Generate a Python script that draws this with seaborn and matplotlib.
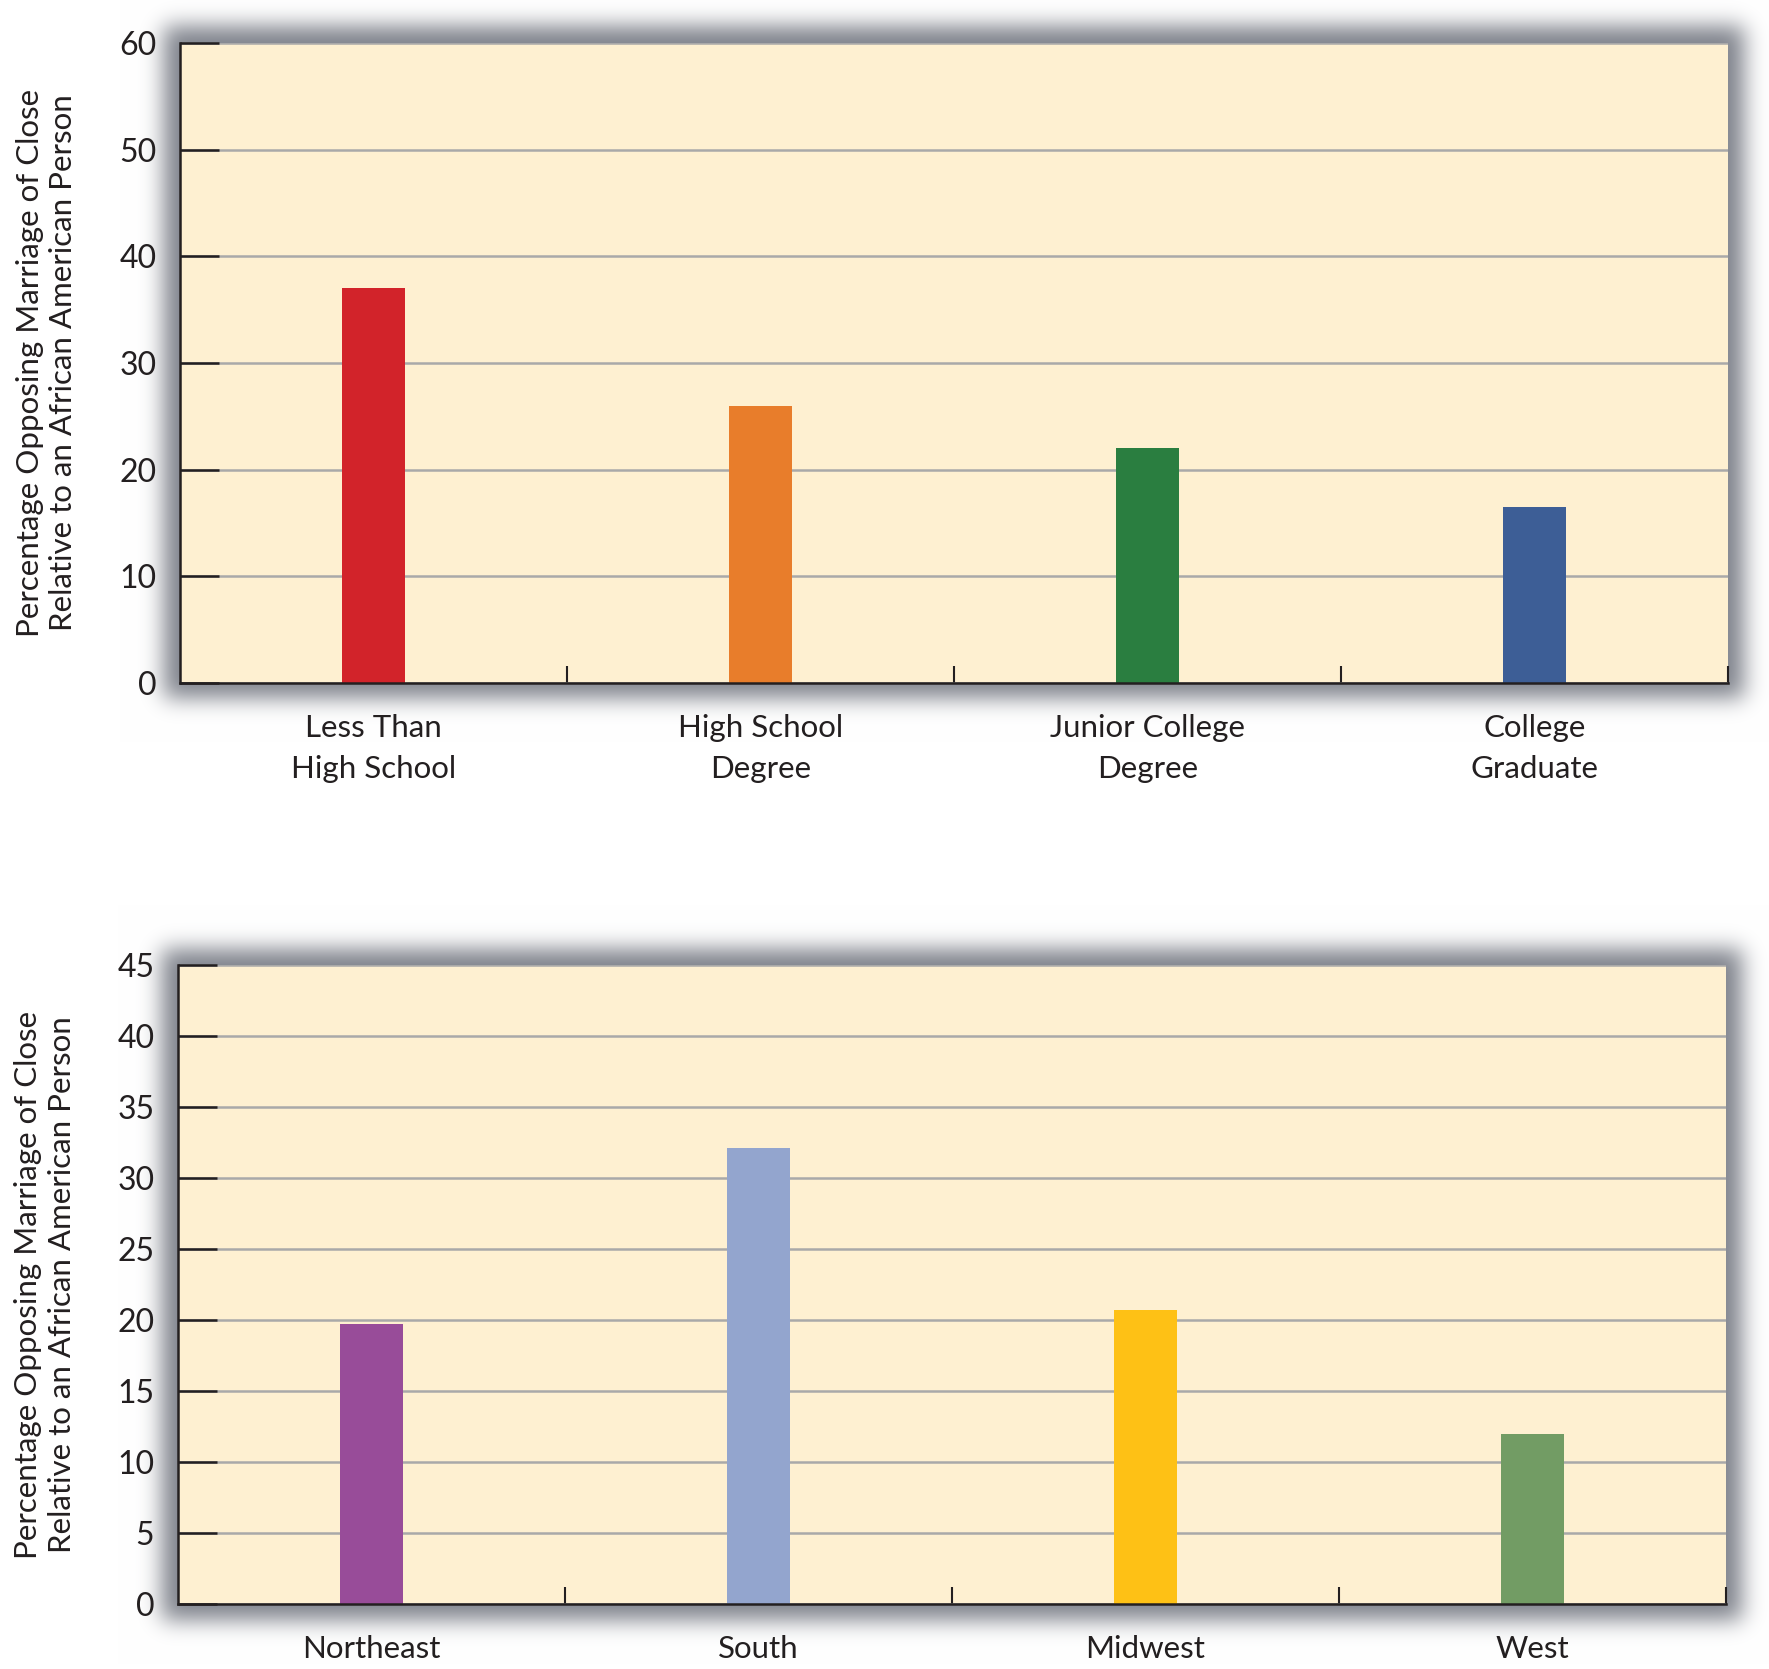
import numpy as np
import pandas as pd
import matplotlib
matplotlib.use("Agg")
import matplotlib.pyplot as plt
import seaborn as sns

# data
edu_labels = ["Less Than\nHigh School", "High School\nDegree", "Junior College\nDegree", "College\nGraduate"]
edu_values = [37, 26, 22, 16.5]
edu_colors = ["#D2232A", "#E87D2B", "#2A7E40", "#3D5E96"]

region_labels = ["Northeast", "South", "Midwest", "West"]
region_values = [19.7, 32.1, 20.7, 12.0]
region_colors = ["#984C99", "#93A5CE", "#FEC115", "#729C64"]

ylabel = "Percentage Opposing Marriage of Close\nRelative to an African American Person"

sns.set_style("white")
plt.rcParams['font.family'] = ['Lato', 'DejaVu Sans']

W, H = 1769, 1669
fig = plt.figure(figsize=(W / 100, H / 100), dpi=100)

BG = "#FEF0D1"
INK = "#231F20"


def blur1d(n, a, b, sigma):
    # box [a, b) convolved with a gaussian
    x = np.zeros(n)
    x[max(a, 0):min(b, n)] = 1.0
    k = np.arange(-4 * sigma, 4 * sigma + 1)
    g = np.exp(-0.5 * (k / sigma) ** 2)
    return np.convolve(x, g / g.sum(), mode="same")


def shadow_layer(rects, grow=16, sigma=11, strength=0.72,
                 tint=(0.30, 0.32, 0.37)):
    alpha = np.zeros((H, W))
    for l, t, r, b in rects:
        py = blur1d(H, t - grow, b + grow, sigma)
        px = blur1d(W, l - grow, r + grow, sigma)
        alpha = np.maximum(alpha, np.outer(py, px))
    a = (alpha * strength)[..., None]
    return 1 - a * (1 - np.array(tint))


def panel(rect_px, labels, values, colors, ymax, ystep):
    l, t, r, b = rect_px
    ax = fig.add_axes([l / W, 1 - b / H, (r - l) / W, (b - t) / H], zorder=2)
    ax.set_facecolor(BG)
    df = pd.DataFrame({"cat": labels, "val": values})
    sns.barplot(data=df, x="cat", y="val", hue="cat", palette=colors,
                width=0.163, legend=False, saturation=1, linewidth=0,
                ax=ax, zorder=3)
    ax.set_xlim(-0.5, 3.5)
    ax.set_ylim(0, ymax)
    ax.set_yticks(np.arange(0, ymax + 0.1, ystep))
    ax.yaxis.grid(True, color="#A9A9A9", lw=1.8, zorder=1)
    ax.set_axisbelow(True)
    for s in ["top", "right"]:
        ax.spines[s].set_visible(False)
    for s in ["left", "bottom"]:
        ax.spines[s].set_color(INK)
        ax.spines[s].set_linewidth(1.8)
        ax.spines[s].set_zorder(5)
    ax.tick_params(axis="y", direction="in", length=28, width=1.8, pad=17,
                   labelsize=23, colors=INK, left=True)
    ax.tick_params(axis="x", which="major", length=0, pad=22, labelsize=22.5,
                   colors=INK)
    ax.set_xticks([0.5, 1.5, 2.5, 3.5], minor=True)
    ax.tick_params(axis="x", which="minor", direction="in", length=12,
                   width=1.5, colors=INK, bottom=True)
    for tl in ax.get_xticklabels():
        tl.set_linespacing(1.6)
    ax.set_xlabel("")
    ax.set_ylabel(ylabel, fontsize=22.5, color=INK, labelpad=30, linespacing=1.25)
    return ax


top_px = (180, 43, 1728, 683)
bot_px = (178, 965, 1726, 1604)

# soft drop shadow behind both panels, on a full-figure background axes
bg = fig.add_axes([0, 0, 1, 1], zorder=0)
bg.imshow(shadow_layer([top_px, bot_px]), extent=(0, W, H, 0), aspect="auto",
          interpolation="nearest")
bg.set_xlim(0, W)
bg.set_ylim(H, 0)
bg.axis("off")

ax1 = panel(top_px, edu_labels, edu_values, edu_colors, 60, 10)
ax2 = panel(bot_px, region_labels, region_values, region_colors, 45, 5)

fig.savefig("out.png", dpi=100, facecolor="white")
